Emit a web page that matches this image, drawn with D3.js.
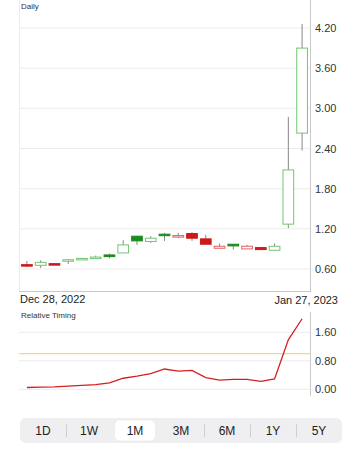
<!DOCTYPE html>
<html><head><meta charset="utf-8">
<script src="https://cdn.jsdelivr.net/npm/d3@7"></script>
<style>
html,body{margin:0;padding:0;background:#fff;}
svg{display:block;font-family:"Liberation Sans",Arial,sans-serif;}
</style></head><body>
<svg id="c" width="358" height="450"></svg>
<script>
const dates = ["2022-12-28","2022-12-29","2022-12-30","2023-01-03","2023-01-04","2023-01-05","2023-01-06","2023-01-09","2023-01-10","2023-01-11","2023-01-12","2023-01-13","2023-01-17","2023-01-18","2023-01-19","2023-01-20","2023-01-23","2023-01-24","2023-01-25","2023-01-26","2023-01-27"];
const open  = [0.665,0.655,0.680,0.730,0.752,0.772,0.810,0.840,1.090,1.010,1.120,1.094,1.130,1.050,0.910,0.970,0.900,0.920,0.880,1.270,2.630];
const high  = [0.720,0.730,0.685,0.750,0.765,0.800,0.830,1.030,1.090,1.090,1.140,1.140,1.150,1.110,0.980,0.970,0.960,0.920,0.980,2.870,4.260];
const low   = [0.630,0.615,0.665,0.675,0.745,0.765,0.760,0.840,0.960,0.990,1.020,1.060,1.020,0.970,0.910,0.890,0.900,0.890,0.880,1.210,2.370];
const close = [0.655,0.700,0.672,0.738,0.758,0.778,0.785,0.960,1.020,1.060,1.100,1.099,1.060,0.970,0.940,0.945,0.940,0.890,0.940,2.080,3.900];
const timing = [0.05,0.06,0.07,0.09,0.11,0.13,0.18,0.31,0.37,0.44,0.57,0.51,0.53,0.33,0.26,0.28,0.28,0.22,0.29,1.39,1.98];
const priceTicks = [0.6,1.2,1.8,2.4,3.0,3.6,4.2];
const timingTicks = [0,0.8,1.6];
const timingRef = 1.0;
const ranges = ["1D","1W","1M","3M","6M","1Y","5Y"];
const selectedRange = "1M";
const firstLabel = "Dec 28, 2022", lastLabel = "Jan 27, 2023";

const svg = d3.select("#c");
const L = 19, R = 310;
const x = d3.scaleBand().domain(dates).range([L, R]).padding(0.15);
const y = d3.scaleLinear().domain([0.6, 4.2]).range([269, 28]);
const y2 = d3.scaleLinear().domain([0, 1.6]).range([389.3, 332.3]);

// main panel
const g = svg.append("g");
g.selectAll(".grid").data(priceTicks).join("line")
  .attr("x1", L).attr("x2", R).attr("y1", d => y(d)).attr("y2", d => y(d))
  .attr("stroke", "#ececec").attr("stroke-width", 1);
g.append("line").attr("x1", L + .5).attr("x2", L + .5).attr("y1", 0).attr("y2", 291).attr("stroke", "#ececec");
g.append("line").attr("x1", R + .5).attr("x2", R + .5).attr("y1", 0).attr("y2", 291).attr("stroke", "#c8c8c8");
g.append("line").attr("x1", L).attr("x2", R + 1).attr("y1", 291.5).attr("y2", 291.5).attr("stroke", "#c8c8c8");

const yAxis = d3.axisRight(y).tickValues(priceTicks).tickFormat(d3.format(".2f")).tickSize(0).tickPadding(5);
const ya = g.append("g").attr("transform", `translate(${R},0)`).call(yAxis);
ya.select(".domain").remove();
ya.selectAll("text").attr("font-size", 11).attr("fill", "#333");

g.append("text").attr("x", 21).attr("y", 9).attr("font-size", 8).attr("fill", "#333").text("Daily");

const data = dates.map((d, i) => ({d, o: open[i], h: high[i], l: low[i], c: close[i], pc: i ? close[i - 1] : open[i]}));
const up = d => d.c >= d.pc;
const hollow = d => d.c > d.o;
const cg = g.append("g");
cg.selectAll(".wick").data(data).join("line")
  .attr("x1", d => x(d.d) + x.bandwidth() / 2).attr("x2", d => x(d.d) + x.bandwidth() / 2)
  .attr("y1", d => y(d.h)).attr("y2", d => y(d.l))
  .attr("stroke", "#888").attr("stroke-width", 1);
cg.selectAll(".body").data(data).join("rect")
  .attr("x", d => x(d.d) + 0.5).attr("width", x.bandwidth() - 1)
  .attr("y", d => y(Math.max(d.o, d.c)))
  .attr("height", d => Math.max(1.5, Math.abs(y(d.o) - y(d.c))))
  .attr("fill", d => hollow(d) ? "#fff" : (up(d) ? "#1c8a1c" : "#cc1a1a"))
  .attr("stroke", d => hollow(d) ? (up(d) ? "#74c474" : "#e06060") : (up(d) ? "#1c8a1c" : "#cc1a1a"))
  .attr("stroke-width", 1);

// x labels
svg.append("text").attr("x", 20).attr("y", 303).attr("font-size", 11).attr("fill", "#222").text(firstLabel);
svg.append("text").attr("x", 338).attr("y", 304).attr("font-size", 11).attr("fill", "#222").attr("text-anchor", "end").text(lastLabel);

// lower panel
const g2 = svg.append("g");
g2.append("text").attr("x", 21).attr("y", 318).attr("font-size", 8).attr("fill", "#333").text("Relative Timing");
g2.selectAll(".grid2").data(timingTicks).join("line")
  .attr("x1", L).attr("x2", R).attr("y1", d => y2(d)).attr("y2", d => y2(d))
  .attr("stroke", "#ececec");
g2.append("line").attr("x1", R + .5).attr("x2", R + .5).attr("y1", 312).attr("y2", 396).attr("stroke", "#c8c8c8");
g2.append("line").attr("x1", L).attr("x2", R).attr("y1", y2(timingRef)).attr("y2", y2(timingRef))
  .attr("stroke", "#f7d77a").attr("stroke-width", 1.2);
const ya2 = g2.append("g").attr("transform", `translate(${R},0)`)
  .call(d3.axisRight(y2).tickValues(timingTicks).tickFormat(d3.format(".2f")).tickSize(0).tickPadding(5));
ya2.select(".domain").remove();
ya2.selectAll("text").attr("font-size", 11).attr("fill", "#333");
g2.append("path").datum(timing.map((v, i) => [dates[i], v]))
  .attr("fill", "none").attr("stroke", "#d42020").attr("stroke-width", 1.3)
  .attr("d", d3.line().x(d => x(d[0]) + x.bandwidth() / 2).y(d => y2(d[1])));

// range selector
const bx = d3.scaleBand().domain(ranges).range([20, 342]);
const sel = svg.append("g");
sel.append("rect").attr("x", 20).attr("y", 418).attr("width", 322).attr("height", 25).attr("rx", 6).attr("fill", "#efeff1");
const si = ranges.indexOf(selectedRange);
sel.selectAll(".sep").data(ranges.slice(1).map((r, i) => i + 1).filter(i => i !== si && i !== si + 1)).join("line")
  .attr("x1", i => bx(ranges[i]) + .5).attr("x2", i => bx(ranges[i]) + .5).attr("y1", 424).attr("y2", 437)
  .attr("stroke", "#cfcfd3");
sel.append("rect").attr("x", bx(selectedRange) + 2.5).attr("y", 420).attr("width", bx.bandwidth() - 5).attr("height", 21)
  .attr("rx", 5).attr("fill", "#fff").attr("stroke", "#e2e2e4").attr("stroke-width", 0.5);
sel.selectAll(".lbl").data(ranges).join("text")
  .attr("x", d => bx(d) + bx.bandwidth() / 2).attr("y", 435).attr("text-anchor", "middle")
  .attr("font-size", 12).attr("fill", "#222").text(d => d);
</script>
</body></html>
